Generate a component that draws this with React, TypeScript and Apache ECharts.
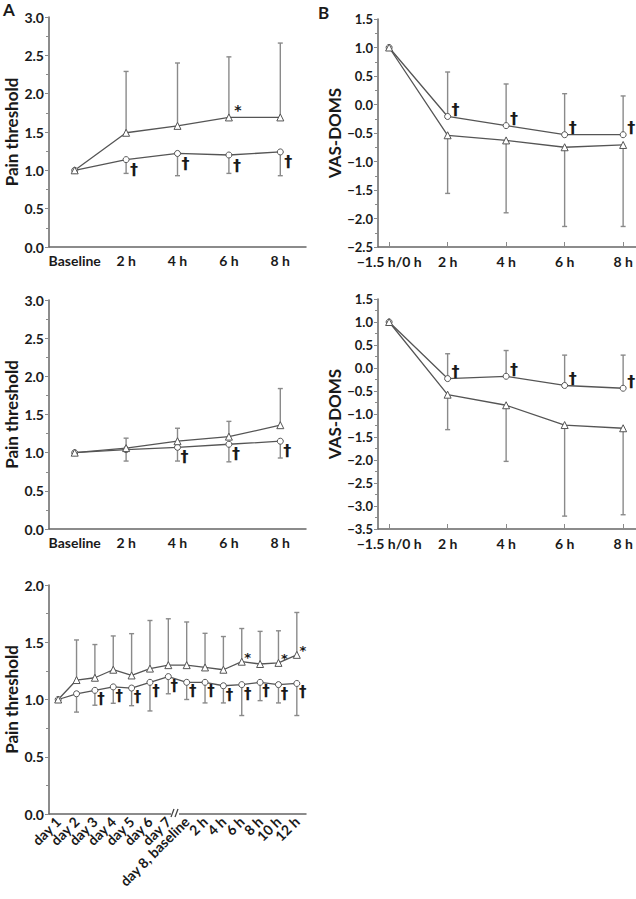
import React, { useEffect, useRef } from 'react';
import * as echarts from 'echarts';

// ---------- data ----------
const catsA = ['Baseline', '2 h', '4 h', '6 h', '8 h'];
const catsB = ['\u22121.5 h/0 h', '2 h', '4 h', '6 h', '8 h'];
const catsC = ['day 1', 'day 2', 'day 3', 'day 4', 'day 5', 'day 6', 'day 7', 'day 8, baseline', '2 h', '4 h', '6 h', '8 h', '10 h', '12 h'];

// Panel A top
const aTopTri = [1.0, 1.49, 1.58, 1.69, 1.69];
const aTopTriErr = [null, 2.29, 2.40, 2.48, 2.66];
const aTopCirc = [1.0, 1.14, 1.22, 1.2, 1.24];
const aTopCircErr = [null, 0.96, 0.93, 0.96, 0.93];
const aTopDagger = [1, 2, 3, 4];
const aTopStar = [3];

// Panel A middle
const aMidTri = [1.0, 1.06, 1.15, 1.21, 1.36];
const aMidTriErr = [null, 1.19, 1.32, 1.41, 1.84];
const aMidCirc = [1.0, 1.04, 1.07, 1.11, 1.15];
const aMidCircErr = [null, 0.89, 0.89, 0.88, 0.93];
const aMidDagger = [2, 3, 4];

// Panel B top
const bTopCirc = [1.0, -0.21, -0.37, -0.53, -0.53];
const bTopCircErr = [null, 0.57, 0.36, 0.19, 0.15];
const bTopTri = [1.0, -0.54, -0.63, -0.75, -0.71];
const bTopTriErr = [null, -1.56, -1.9, -2.14, -2.14];
const bTopDagger = [1, 2, 3, 4];

// Panel B middle
const bMidCirc = [1.0, -0.23, -0.18, -0.38, -0.44];
const bMidCircErr = [null, 0.31, 0.38, 0.28, 0.28];
const bMidTri = [1.0, -0.58, -0.81, -1.24, -1.31];
const bMidTriErr = [null, -1.34, -2.03, -3.22, -3.19];
const bMidDagger = [1, 2, 3, 4];

// Panel A bottom
const cTri = [1.0, 1.17, 1.19, 1.26, 1.21, 1.27, 1.3, 1.3, 1.28, 1.26, 1.33, 1.31, 1.32, 1.39];
const cTriErr = [null, 1.52, 1.48, 1.555, 1.575, 1.69, 1.705, 1.677, 1.578, 1.55, 1.62, 1.595, 1.6, 1.76];
const cCirc = [1.0, 1.05, 1.08, 1.11, 1.1, 1.15, 1.2, 1.15, 1.15, 1.12, 1.13, 1.15, 1.13, 1.14];
const cCircErr = [null, 0.89, 0.95, 0.967, 0.946, 0.9, 1.05, 1.0, 0.97, 0.97, 0.86, 0.99, 0.97, 0.86];
const cDagger = [2, 3, 4, 5, 6, 7, 8, 9, 10, 11, 12, 13];
const cStar = [10, 12, 13];

// ---------- styling ----------
const FONT = 'Lato, "Open Sans", sans-serif';
const LINE = '#555';
const ERR = '#8a8a8a';
const AXIS = '#666';
const TEXT = '#1a1a1a';

const fmtNum = (v: number) => v.toFixed(1).replace('-', '\u2212');

function yAxis(grid: number, min: number, max: number, name: string, nameGap: number, fontSize = 14) {
  return {
    type: 'value', gridIndex: grid, min, max, interval: 0.5,
    name, nameLocation: 'middle', nameGap, nameRotate: 90,
    nameTextStyle: { fontFamily: FONT, fontWeight: 'bold', fontSize: 17, color: TEXT },
    axisLine: { show: true, onZero: false, lineStyle: { color: AXIS, width: 1.5 } },
    axisTick: { show: true, inside: false, length: 4, lineStyle: { color: ERR } },
    minorTick: { show: true, splitNumber: 2, length: 3, lineStyle: { color: ERR } },
    splitLine: { show: false },
    axisLabel: { formatter: fmtNum, fontFamily: FONT, fontWeight: 'bold', fontSize, lineHeight: fontSize - 2, color: TEXT, margin: 5 },
  };
}

function catAxis(grid: number, data: string[], extraLabel: any = {}) {
  return {
    type: 'category', gridIndex: grid, data, boundaryGap: true,
    axisLine: { onZero: false, lineStyle: { color: AXIS, width: 1.5 } },
    axisTick: { inside: true, alignWithLabel: true, interval: 0, length: 5, lineStyle: { color: ERR } },
    axisLabel: { interval: 0, fontFamily: FONT, fontWeight: 'bold', fontSize: 14, color: TEXT, margin: 6, ...extraLabel },
    splitLine: { show: false },
  };
}

function valXAxis(grid: number, cats: string[]) {
  const idx = cats.map((_, i) => i);
  return {
    type: 'value', gridIndex: grid, min: -0.19, max: 4.22,
    axisLine: { onZero: false, lineStyle: { color: AXIS, width: 1.5 } },
    axisTick: { inside: true, length: 5, customValues: idx, lineStyle: { color: ERR } },
    axisLabel: {
      customValues: idx, formatter: (v: number) => cats[Math.round(v)] ?? '',
      fontFamily: FONT, fontWeight: 'bold', fontSize: 14, lineHeight: 12, color: TEXT, margin: 8,
    },
    splitLine: { show: false },
  };
}

function lineSeries(grid: number, vals: number[], symbol: string, useIndexX: boolean) {
  return {
    type: 'line', xAxisIndex: grid, yAxisIndex: grid, z: 3,
    data: useIndexX ? vals.map((v, i) => [i, v]) : vals,
    symbol, symbolSize: symbol === 'triangle' ? 7 : 6, showSymbol: true,
    lineStyle: { color: LINE, width: 1.3 },
    itemStyle: { color: '#fff', borderColor: LINE, borderWidth: 1 },
    emphasis: { disabled: true },
  };
}

function errSeries(grid: number, vals: number[], ends: (number | null)[]) {
  const data: number[][] = [];
  ends.forEach((e, i) => { if (e !== null) data.push([i, vals[i], e]); });
  return {
    type: 'custom', xAxisIndex: grid, yAxisIndex: grid, z: 2,
    encode: { x: 0, y: [1, 2] },
    data,
    renderItem: (_p: any, api: any) => {
      const x = api.value(0);
      const p1 = api.coord([x, api.value(1)]);
      const p2 = api.coord([x, api.value(2)]);
      const st = { stroke: ERR, lineWidth: 1.4 };
      return {
        type: 'group',
        children: [
          { type: 'line', shape: { x1: p1[0], y1: p1[1], x2: p2[0], y2: p2[1] }, style: st },
          { type: 'line', shape: { x1: p2[0] - 2.5, y1: p2[1], x2: p2[0] + 2.5, y2: p2[1] }, style: st },
        ],
      };
    },
  };
}

function markSeries(grid: number, vals: number[], idx: number[], text: string, dx: number, dy: number, size: number) {
  return {
    type: 'custom', xAxisIndex: grid, yAxisIndex: grid, z: 4,
    encode: { x: 0, y: 1 },
    data: idx.map((i) => [i, vals[i]]),
    renderItem: (_p: any, api: any) => {
      const p = api.coord([api.value(0), api.value(1)]);
      return {
        type: 'text', x: p[0] + dx, y: p[1] + dy,
        style: { text, fill: TEXT, fontSize: size, fontWeight: 'bold', fontFamily: 'DejaVu Sans, sans-serif', align: 'center', verticalAlign: 'middle' },
      };
    },
  };
}

export default function App() {
  const ref = useRef<HTMLDivElement>(null);
  useEffect(() => {
    if (!ref.current) return;
    const chart = echarts.init(ref.current, null, { renderer: 'svg' });
    const option = {
      animation: false,
      backgroundColor: '#fff',
      grid: [
        { left: 49, top: 17, width: 257, height: 230 },
        { left: 49, top: 300, width: 257, height: 229 },
        { left: 49, top: 585, width: 257, height: 229 },
        { left: 378, top: 19, width: 258, height: 228 },
        { left: 378, top: 299, width: 258, height: 230 },
      ],
      xAxis: [
        catAxis(0, catsA),
        catAxis(1, catsA),
        catAxis(2, catsC, { rotate: 45, fontSize: 14, margin: 5 }),
        valXAxis(3, catsB),
        valXAxis(4, catsB),
      ],
      yAxis: [
        yAxis(0, 0, 3, 'Pain threshold', 29),
        yAxis(1, 0, 3, 'Pain threshold', 29),
        yAxis(2, 0, 2, 'Pain threshold', 29),
        yAxis(3, -2.5, 1.5, 'VAS-DOMS', 32, 13),
        yAxis(4, -3.5, 1.5, 'VAS-DOMS', 32, 13),
      ],
      series: [
        // A top
        errSeries(0, aTopTri, aTopTriErr),
        errSeries(0, aTopCirc, aTopCircErr),
        lineSeries(0, aTopCirc, 'circle', false),
        lineSeries(0, aTopTri, 'triangle', false),
        markSeries(0, aTopCirc, aTopDagger, '\u2020', 8, 10, 16),
        markSeries(0, aTopTri, aTopStar, '*', 9, -7, 14),
        // A middle
        errSeries(1, aMidTri, aMidTriErr),
        errSeries(1, aMidCirc, aMidCircErr),
        lineSeries(1, aMidCirc, 'circle', false),
        lineSeries(1, aMidTri, 'triangle', false),
        markSeries(1, aMidCirc, aMidDagger, '\u2020', 7, 9, 16),
        // A bottom
        errSeries(2, cTri, cTriErr),
        errSeries(2, cCirc, cCircErr),
        lineSeries(2, cCirc, 'circle', false),
        lineSeries(2, cTri, 'triangle', false),
        markSeries(2, cCirc, cDagger, '\u2020', 6, 9, 15),
        markSeries(2, cTri, cStar, '*', 6, -4, 13),
        // B top
        errSeries(3, bTopCirc, bTopCircErr),
        errSeries(3, bTopTri, bTopTriErr),
        lineSeries(3, bTopCirc, 'circle', true),
        lineSeries(3, bTopTri, 'triangle', true),
        markSeries(3, bTopCirc, bTopDagger, '\u2020', 8, -7, 16),
        // B middle
        errSeries(4, bMidCirc, bMidCircErr),
        errSeries(4, bMidTri, bMidTriErr),
        lineSeries(4, bMidCirc, 'circle', true),
        lineSeries(4, bMidTri, 'triangle', true),
        markSeries(4, bMidCirc, bMidDagger, '\u2020', 8, -7, 16),
      ],
      graphic: [
        { type: 'text', left: 3, top: 1, style: { text: 'A', fontFamily: FONT, fontWeight: 'bold', fontSize: 17, fill: TEXT } },
        { type: 'text', left: 318, top: 4, style: { text: 'B', fontFamily: FONT, fontWeight: 'bold', fontSize: 17, fill: TEXT } },
        { type: 'rect', shape: { x: 171, y: 809, width: 8, height: 9 }, style: { fill: '#fff' }, z: 100 },
        { type: 'line', shape: { x1: 171, y1: 817, x2: 174, y2: 809 }, style: { stroke: '#444', lineWidth: 1.3 }, z: 101 },
        { type: 'line', shape: { x1: 175, y1: 817, x2: 178, y2: 809 }, style: { stroke: '#444', lineWidth: 1.3 }, z: 101 },
      ],
    };
    chart.setOption(option as any);
    return () => chart.dispose();
  }, []);
  return <div ref={ref} style={{ position: 'absolute', left: 0, top: 0, width: 636, height: 899 }} />;
}
